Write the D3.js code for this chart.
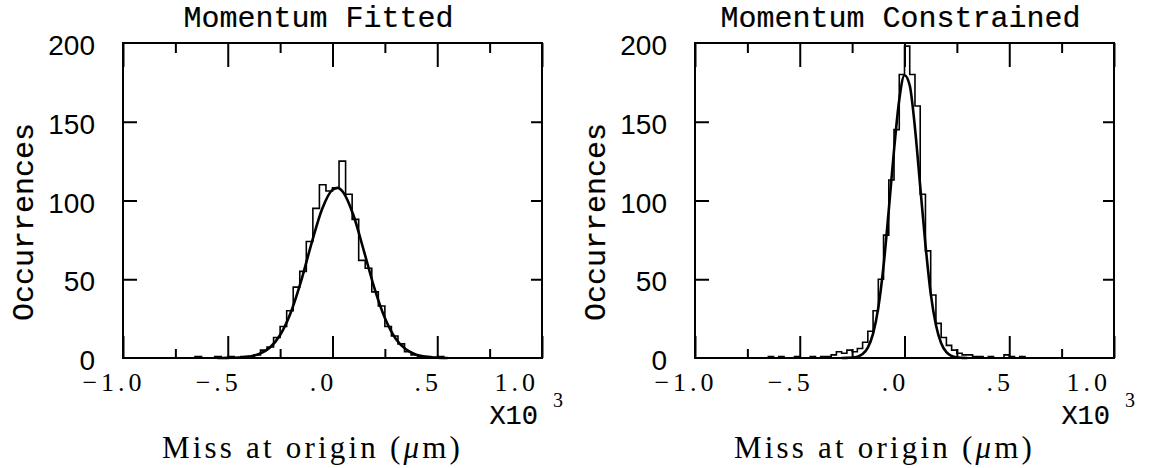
<!DOCTYPE html>
<html>
<head>
<meta charset="utf-8">
<script src="https://cdn.jsdelivr.net/npm/d3@7"></script>
<style>
body { margin: 0; background: #fff; }
svg { display: block; }
.title, .ylabel, .mult { font-family: "Liberation Mono", monospace; fill: #000; stroke: #000; stroke-width: 0.2; }
.ytick { font-family: "Liberation Sans", Arial, sans-serif; fill: #000; }
.xtick, .xlabel, .expo { font-family: "Liberation Serif", serif; fill: #000; }
</style>
</head>
<body>
<div id="chart"></div>
<script>
// axis ticks and labels (x in units of 10^3 um)
const xTicksMajor = [-1, -0.5, 0, 0.5, 1];
const xTicksMinor = [-0.75, -0.25, 0.25, 0.75];
const xTickLabels = ["\u22121.0", "\u2212.5", ".0", ".5", "1.0"];
const yTicks = [0, 50, 100, 150, 200];
const yTickLabels = ["0", "50", "100", "150", "200"];

// Momentum Fitted : histogram (bins of 1/32 starting at -0.65625) and fit
const fittedStart = -0.65625;
const fittedBinWidth = 0.03125;
const fittedCounts = [1, 0, 0, 1, 0, 1, 0, 1, 1, 2, 5, 7, 13, 20, 30, 45, 55, 74, 95, 110,
	106, 108, 125, 104, 88, 62, 57, 42, 33, 20, 14, 9, 4, 2, 1, 1, 0, 1];
const fittedCurveX = [-0.55, -0.5, -0.45, -0.4, -0.35, -0.3, -0.25, -0.2, -0.15, -0.1, -0.05, 0, 0.025,
	0.05, 0.1, 0.15, 0.2, 0.25, 0.3, 0.35, 0.4, 0.45, 0.5, 0.55];
const fittedCurveY = [0, 0.1, 0.3, 0.9, 2.5, 6.5, 14.6, 28.6, 48.8, 72.8, 94.4, 106.8, 108,
	105.4, 90.6, 67.9, 44.4, 25.4, 12.6, 5.5, 2.1, 0.7, 0.2, 0];

// Momentum Constrained : histogram (bins of 0.025 starting at -0.65) and fit
const constrainedStart = -0.65;
const constrainedBinWidth = 0.025;
const constrainedCounts = [1, 0, 1, 0, 0, 1, 0, 0, 1, 0, 1, 1, 2, 4, 3, 5, 4, 6, 10, 17,
	30, 50, 78, 113, 145, 180, 198, 180, 160, 104, 68, 40, 22, 13, 8, 5, 3, 2, 2, 1,
	1, 0, 1, 0, 0, 2, 1, 0, 1];
const constrainedCurveX = [-0.3, -0.275, -0.25, -0.225, -0.2, -0.175, -0.15, -0.125, -0.1, -0.075, -0.05, -0.025,
	0, 0.025, 0.05, 0.075, 0.1, 0.125, 0.15, 0.175, 0.2, 0.225, 0.25, 0.275, 0.3];
const constrainedCurveY = [0, 0.1, 0.24, 0.8, 2.5, 6.6, 15.5, 32, 58.5, 94, 132, 164,
	179.5, 173, 146, 109, 72, 41, 21, 9.4, 3.7, 1.3, 0.4, 0.1, 0];

const panels = [
	{title: "Momentum Fitted", left: 123, titleShift: -14, start: fittedStart, bw: fittedBinWidth, counts: fittedCounts, cx: fittedCurveX, cy: fittedCurveY},
	{title: "Momentum Constrained", left: 695, titleShift: -4, start: constrainedStart, bw: constrainedBinWidth, counts: constrainedCounts, cx: constrainedCurveX, cy: constrainedCurveY}
];

var svg = d3.select("#chart").append("svg").attr("width", 1156).attr("height", 468);
const frameTop = 43, frameBottom = 358, frameWidth = 419;

panels.forEach(function(p) {
	var x = d3.scaleLinear().domain([-1, 1]).range([p.left, p.left + frameWidth]);
	var y = d3.scaleLinear().domain([0, 200]).range([frameBottom, frameTop]);
	var g = svg.append("g");

	// histogram as a step line
	var pts = [[-1, 0]];
	p.counts.forEach((c, i) => pts.push([p.start + i * p.bw, c]));
	pts.push([p.start + p.counts.length * p.bw, 0]);
	pts.push([1, 0]);
	g.append("path")
		.datum(pts)
		.attr("fill", "none")
		.attr("stroke", "#000")
		.attr("stroke-width", 1.6)
		.attr("d", d3.line().curve(d3.curveStepAfter).x(d => x(d[0])).y(d => y(d[1])));

	// fitted gaussian
	g.append("path")
		.datum(p.cx.map((v, i) => [v, p.cy[i]]))
		.attr("fill", "none")
		.attr("stroke", "#000")
		.attr("stroke-width", 2.6)
		.attr("d", d3.line().curve(d3.curveMonotoneX).x(d => x(d[0])).y(d => y(d[1])));

	// inward ticks on all four sides
	function tickStyle(sel) {
		sel.select(".domain").remove();
		sel.selectAll(".tick line").attr("stroke", "#000").attr("stroke-width", 2);
		sel.selectAll(".tick text").remove();
	}
	g.append("g").attr("transform", `translate(0,${frameBottom})`)
		.call(d3.axisBottom(x).tickValues(xTicksMajor).tickSize(-22)).call(tickStyle);
	g.append("g").attr("transform", `translate(0,${frameBottom})`)
		.call(d3.axisBottom(x).tickValues(xTicksMinor).tickSize(-9)).call(tickStyle);
	g.append("g").attr("transform", `translate(0,${frameTop})`)
		.call(d3.axisTop(x).tickValues(xTicksMajor).tickSize(-24)).call(tickStyle);
	g.append("g").attr("transform", `translate(0,${frameTop})`)
		.call(d3.axisTop(x).tickValues(xTicksMinor).tickSize(-10)).call(tickStyle);
	g.append("g").attr("transform", `translate(${p.left},0)`)
		.call(d3.axisLeft(y).tickValues(yTicks.slice(1, 4)).tickSize(-14)).call(tickStyle);
	g.append("g").attr("transform", `translate(${p.left + frameWidth},0)`)
		.call(d3.axisRight(y).tickValues(yTicks.slice(1, 4)).tickSize(-11)).call(tickStyle);

	// frame
	g.append("rect")
		.attr("x", p.left).attr("y", frameTop)
		.attr("width", frameWidth).attr("height", frameBottom - frameTop)
		.attr("fill", "none").attr("stroke", "#000").attr("stroke-width", 2);

	// y tick labels
	g.selectAll(".ytick").data(yTicks).enter().append("text")
		.attr("class", "ytick")
		.attr("x", p.left - 28)
		.attr("y", d => y(d) + 12)
		.attr("text-anchor", "end")
		.attr("font-size", 28)
		.text((d, i) => yTickLabels[i]);

	// x tick labels
	g.selectAll(".xtick").data(xTicksMajor).enter().append("text")
		.attr("class", "xtick")
		.attr("x", (d, i) => i == xTicksMajor.length - 1 ? x(d) - 3 : x(d) - 9)
		.attr("y", 391)
		.attr("text-anchor", (d, i) => i == xTicksMajor.length - 1 ? "end" : "middle")
		.attr("font-size", 26)
		.attr("letter-spacing", 4)
		.text((d, i) => xTickLabels[i]);

	// X10^3 multiplier
	g.append("text").attr("class", "mult")
		.attr("x", p.left + frameWidth - 4).attr("y", 424)
		.attr("text-anchor", "end").attr("font-size", 27)
		.text("X10");
	g.append("text").attr("class", "expo")
		.attr("x", p.left + frameWidth + 11).attr("y", 407)
		.attr("font-size", 20)
		.text("3");

	// titles
	g.append("text").attr("class", "title")
		.attr("x", p.left + frameWidth / 2 + p.titleShift).attr("y", 27)
		.attr("text-anchor", "middle").attr("font-size", 30)
		.text(p.title);

	g.append("text").attr("class", "ylabel")
		.attr("transform", `translate(${p.left - 90},222) rotate(-90)`)
		.attr("text-anchor", "middle").attr("font-size", 30)
		.text("Occurrences");

	var xl = g.append("text").attr("class", "xlabel")
		.attr("x", p.left + frameWidth / 2 - 20).attr("y", 458)
		.attr("text-anchor", "middle").attr("font-size", 31)
		.attr("letter-spacing", 3.2);
	xl.append("tspan").text("Miss at origin (");
	xl.append("tspan").attr("font-style", "italic").text("\u03bc");
	xl.append("tspan").text("m)");
});
</script>
</body>
</html>
